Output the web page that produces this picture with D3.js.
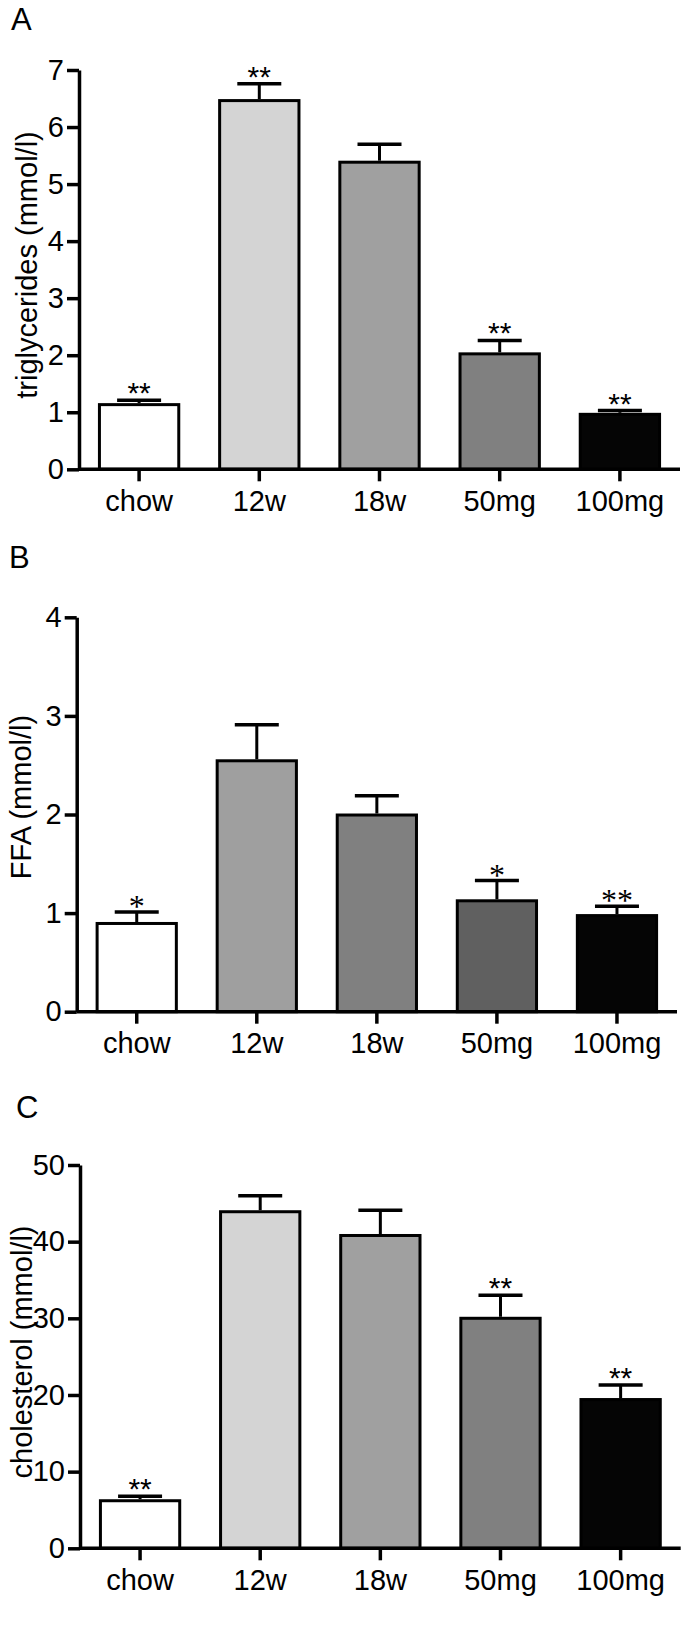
<!DOCTYPE html>
<html>
<head>
<meta charset="utf-8">
<script src="https://cdn.jsdelivr.net/npm/d3@7"></script>
<style>
  body { margin: 0; background: #fff; }
  svg { display: block; font-family: "Liberation Sans", Arial, sans-serif; }
  .axis path, .axis line { stroke: #000; stroke-width: 3.5; }
  .axis text { font-size: 29px; fill: #000; font-family: "Liberation Sans", Arial, sans-serif; }
</style>
</head>
<body>
<div id="chart"></div>
<script>
const categories = ["chow", "12w", "18w", "50mg", "100mg"];

// A: triglycerides
const tgMean = [1.16, 6.49, 5.41, 2.05, 0.99];
const tgErr = [0.05, 0.27, 0.29, 0.21, 0.04];
const tgStars = ["**", "**", "", "**", "**"];
const tgTicks = [0, 1, 2, 3, 4, 5, 6, 7];
const tgFill = ["#ffffff", "#d4d4d4", "#a0a0a0", "#808080", "#050505"];

// B: FFA
const ffaMean = [0.91, 2.56, 2.01, 1.14, 0.99];
const ffaErr = [0.10, 0.35, 0.18, 0.19, 0.08];
const ffaStars = ["*", "", "", "*", "**"];
const ffaTicks = [0, 1, 2, 3, 4];
const ffaFill = ["#ffffff", "#9f9f9f", "#808080", "#606060", "#050505"];

// C: cholesterol
const cholMean = [6.4, 44.1, 41.0, 30.2, 19.6];
const cholErr = [0.4, 1.9, 3.1, 2.8, 1.7];
const cholStars = ["**", "", "", "**", "**"];
const cholTicks = [0, 10, 20, 30, 40, 50];
const cholFill = ["#ffffff", "#d4d4d4", "#a0a0a0", "#808080", "#050505"];

const svg = d3.select("#chart").append("svg")
  .attr("width", 688)
  .attr("height", 1625);

const draw = (cfg) => {
  const x = d3.scaleBand()
    .domain(categories)
    .range([cfg.left, cfg.right])
    .paddingInner(0.34)
    .paddingOuter(0.17);

  const y = d3.scaleLinear()
    .domain([0, d3.max(cfg.ticks)])
    .range([cfg.bottom, cfg.top]);

  const g = svg.append("g");

  const data = categories.map((c, i) => ({
    cat: c, v: cfg.mean[i], e: cfg.err[i], star: cfg.stars[i], fill: cfg.fill[i]
  }));

  g.selectAll("rect.bar")
    .data(data)
    .enter().append("rect")
    .attr("class", "bar")
    .attr("x", (d) => x(d.cat))
    .attr("width", x.bandwidth())
    .attr("y", (d) => y(d.v) + 1.5)
    .attr("height", (d) => y(0) - y(d.v) - 1.5)
    .attr("fill", (d) => d.fill)
    .attr("stroke", "#000")
    .attr("stroke-width", 3);

  const cx = (d) => x(d.cat) + x.bandwidth() / 2;

  g.selectAll("line.err")
    .data(data)
    .enter().append("line")
    .attr("x1", cx).attr("x2", cx)
    .attr("y1", (d) => y(d.v))
    .attr("y2", (d) => y(d.v + d.e))
    .attr("stroke", "#000").attr("stroke-width", 3);

  g.selectAll("line.cap")
    .data(data)
    .enter().append("line")
    .attr("x1", (d) => cx(d) - 22).attr("x2", (d) => cx(d) + 22)
    .attr("y1", (d) => y(d.v + d.e))
    .attr("y2", (d) => y(d.v + d.e))
    .attr("stroke", "#000").attr("stroke-width", 3.5);

  g.selectAll("text.star")
    .data(data.filter((d) => d.star))
    .enter().append("text")
    .attr("x", cx)
    .attr("y", (d) => y(d.v + d.e) + cfg.starDy)
    .attr("text-anchor", "middle")
    .style("font-family", cfg.starFont)
    .style("font-size", cfg.starSize + "px")
    .text((d) => d.star);

  g.append("g")
    .attr("class", "axis")
    .attr("transform", `translate(0,${cfg.bottom})`)
    .call(d3.axisBottom(x).tickSize(12).tickSizeOuter(0).tickPadding(9))
    .call((a) => a.select(".domain").attr("d", `M${cfg.left},0H${cfg.right}`));

  g.append("g")
    .attr("class", "axis")
    .attr("transform", `translate(${cfg.left},0)`)
    .call(d3.axisLeft(y).tickValues(cfg.ticks).tickFormat(d3.format("d"))
      .tickSize(12).tickSizeOuter(0).tickPadding(3));

  g.append("text")
    .attr("transform", `translate(${cfg.titleX},${cfg.titleY}) rotate(-90)`)
    .attr("text-anchor", "middle")
    .attr("dy", "0.35em")
    .style("font-size", "29px")
    .text(cfg.title);

  g.append("text")
    .attr("x", cfg.letterX)
    .attr("y", cfg.letterY)
    .style("font-size", "31px")
    .text(cfg.letter);
};

draw({
  mean: tgMean, err: tgErr, stars: tgStars, ticks: tgTicks, fill: tgFill,
  left: 79, right: 680, top: 70, bottom: 469.3,
  title: "triglycerides (mmol/l)", titleX: 27, titleY: 265,
  letter: "A", letterX: 11, letterY: 30,
  starFont: "Liberation Sans", starSize: 30, starDy: 3
});

draw({
  mean: ffaMean, err: ffaErr, stars: ffaStars, ticks: ffaTicks, fill: ffaFill,
  left: 76.7, right: 677, top: 617.3, bottom: 1011.7,
  title: "FFA (mmol/l)", titleX: 21, titleY: 797,
  letter: "B", letterX: 9, letterY: 568,
  starFont: "Liberation Serif", starSize: 32, starDy: 5
});

draw({
  mean: cholMean, err: cholErr, stars: cholStars, ticks: cholTicks, fill: cholFill,
  left: 80, right: 680.7, top: 1165, bottom: 1548.3,
  title: "cholesterol (mmol/l)", titleX: 22, titleY: 1352,
  letter: "C", letterX: 16, letterY: 1118,
  starFont: "Liberation Sans", starSize: 30, starDy: 3
});
</script>
</body>
</html>
